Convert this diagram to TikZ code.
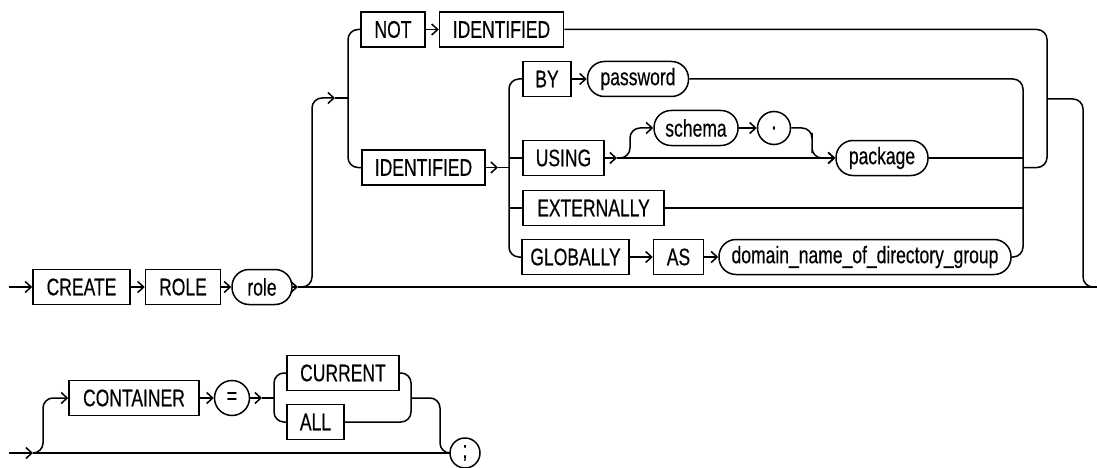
\documentclass[tikz,border=0pt]{standalone}
\usepackage{fontspec}
\setmainfont{Liberation Sans}[FakeStretch=0.73,FakeBold=0.4]
\usetikzlibrary{arrows.meta,positioning}
\tikzset{
keyword/.style={draw,line width=1.5pt,minimum height=35pt,inner sep=0pt,font=\fontsize{24}{28}\selectfont},
param/.style={keyword,rounded corners=17pt},
symbol/.style={draw,circle,line width=1.5pt,minimum size=33pt,inner sep=0pt,font=\fontsize{24}{28}\selectfont},
rail/.style={line width=1.5pt,rounded corners=10pt},
flow/.style={rail,-{Straight Barb[length=6pt,width=11pt]}}
}
\begin{document}
\begin{tikzpicture}[x=1pt,y=-1pt,node distance=14pt]
\useasboundingbox (0,0) rectangle (1097,468);
% first line
\node[keyword,minimum width=97pt] (create) at (81.5,287) {CREATE};
\node[keyword,minimum width=75pt,right=of create] (rolekw) {ROLE};
\node[param,minimum width=60pt,right=10pt of rolekw] (role) {role};
% identification clause
\node[keyword,minimum width=64pt] (not) at (393,29.5) {NOT};
\node[keyword,minimum width=124pt,right=13pt of not] (idtop) {IDENTIFIED};
\node[keyword,minimum width=123pt] (idlow) at (423.5,167.5) {IDENTIFIED};
\node[keyword,minimum width=48pt] (by) at (547,79) {BY};
\node[param,minimum width=101pt,right=15pt of by] (password) {password};
\node[keyword,minimum width=81pt] (using) at (563.5,158) {USING};
\node[param,minimum width=84pt] (schema) at (696,128) {schema};
\node[symbol,right=18pt of schema] (dot) {.};
\node[param,minimum width=92pt] (package) at (882,158) {package};
\node[keyword,minimum width=141pt] (ext) at (593.5,208) {EXTERNALLY};
\node[keyword,minimum width=107pt] (glob) at (575.5,257) {GLOBALLY};
\node[keyword,minimum width=50pt,right=23pt of glob] (as) {AS};
\node[param,minimum width=292pt,right=14pt of as] (domain) {domain\_name\_of\_directory\_group};
% container clause
\node[keyword,minimum width=130pt] (container) at (134,398) {CONTAINER};
\node[symbol,minimum size=35pt,right=of container] (eq) {=};
\node[keyword,minimum width=112pt] (current) at (343,373) {CURRENT};
\node[keyword,minimum width=57pt] (all) at (315.5,422) {ALL};
\node[symbol,minimum size=30pt] (semi) at (465,453) {;};
% rail points
\coordinate (start) at (9,287);
\coordinate (a1) at (298,287);
\coordinate (end) at (1097,287);
\coordinate (j1) at (312,98);
\coordinate (a2) at (335,98);
\coordinate (split) at (348,98);
\coordinate (a3) at (498,167.5);
\coordinate (k1) at (509,167.5);
\coordinate (a4) at (617,158);
\coordinate (f1) at (630,128);
\coordinate (f2) at (812,143);
\coordinate (m1) at (1023,167.5);
\coordinate (m2) at (1047,99);
\coordinate (j4) at (1083,287);
\coordinate (start2) at (9,453);
\coordinate (a5) at (33,453);
\coordinate (f3) at (43,398);
\coordinate (a6) at (262,398);
\coordinate (k2) at (274,398);
\coordinate (m3) at (411,398);
\coordinate (f4) at (440,453);
% main rail
\draw[flow](start)--(create);\draw[flow](create)--(rolekw);\draw[flow](rolekw)--(role);
\draw[flow](role)--(a1);\draw[rail](a1)--(end);
\draw[flow](a1)-|(j1)--(a2);\draw[rail](a2)--(split);
\draw[rail](not)-|(split)|-(idlow);
\draw[flow](not)--(idtop);
\draw[rail](idtop)-|(m2)|-(m1);
\draw[rail](m2)-|(j4)--(end);
% identified by
\draw[flow](idlow)--(a3);\draw[rail](a3)--(k1);
\draw[rail](by)-|(k1)|-(glob);
\draw[rail](using.west)--(using.west-|k1);
\draw[rail](ext.west)--(ext.west-|k1);
\draw[flow](by)--(password);
\draw[flow](using)--(a4);\draw[flow](a4)--(package);
\draw[flow](a4)-|(f1)--(schema);
\draw[flow](schema)--(dot);
\draw[flow](dot)-|(f2)|-(package);
\draw[flow](glob)--(as);\draw[flow](as)--(domain);
\draw[rail](password)-|(m1)|-(domain);
\draw[rail](package.east)--(package.east-|m1);
\draw[rail](ext.east)--(ext.east-|m1);
% container
\draw[flow](start2)--(a5);\draw[rail](a5)--(semi);
\draw[flow](a5)-|(f3)--(container);
\draw[flow](container)--(eq);
\draw[flow](eq)--(a6);\draw[rail](a6)--(k2);
\draw[rail](current)-|(k2)|-(all);
\draw[rail](current)-|(m3)|-(all);
\draw[rail](m3)-|(f4)--(semi);
\end{tikzpicture}
\end{document}
